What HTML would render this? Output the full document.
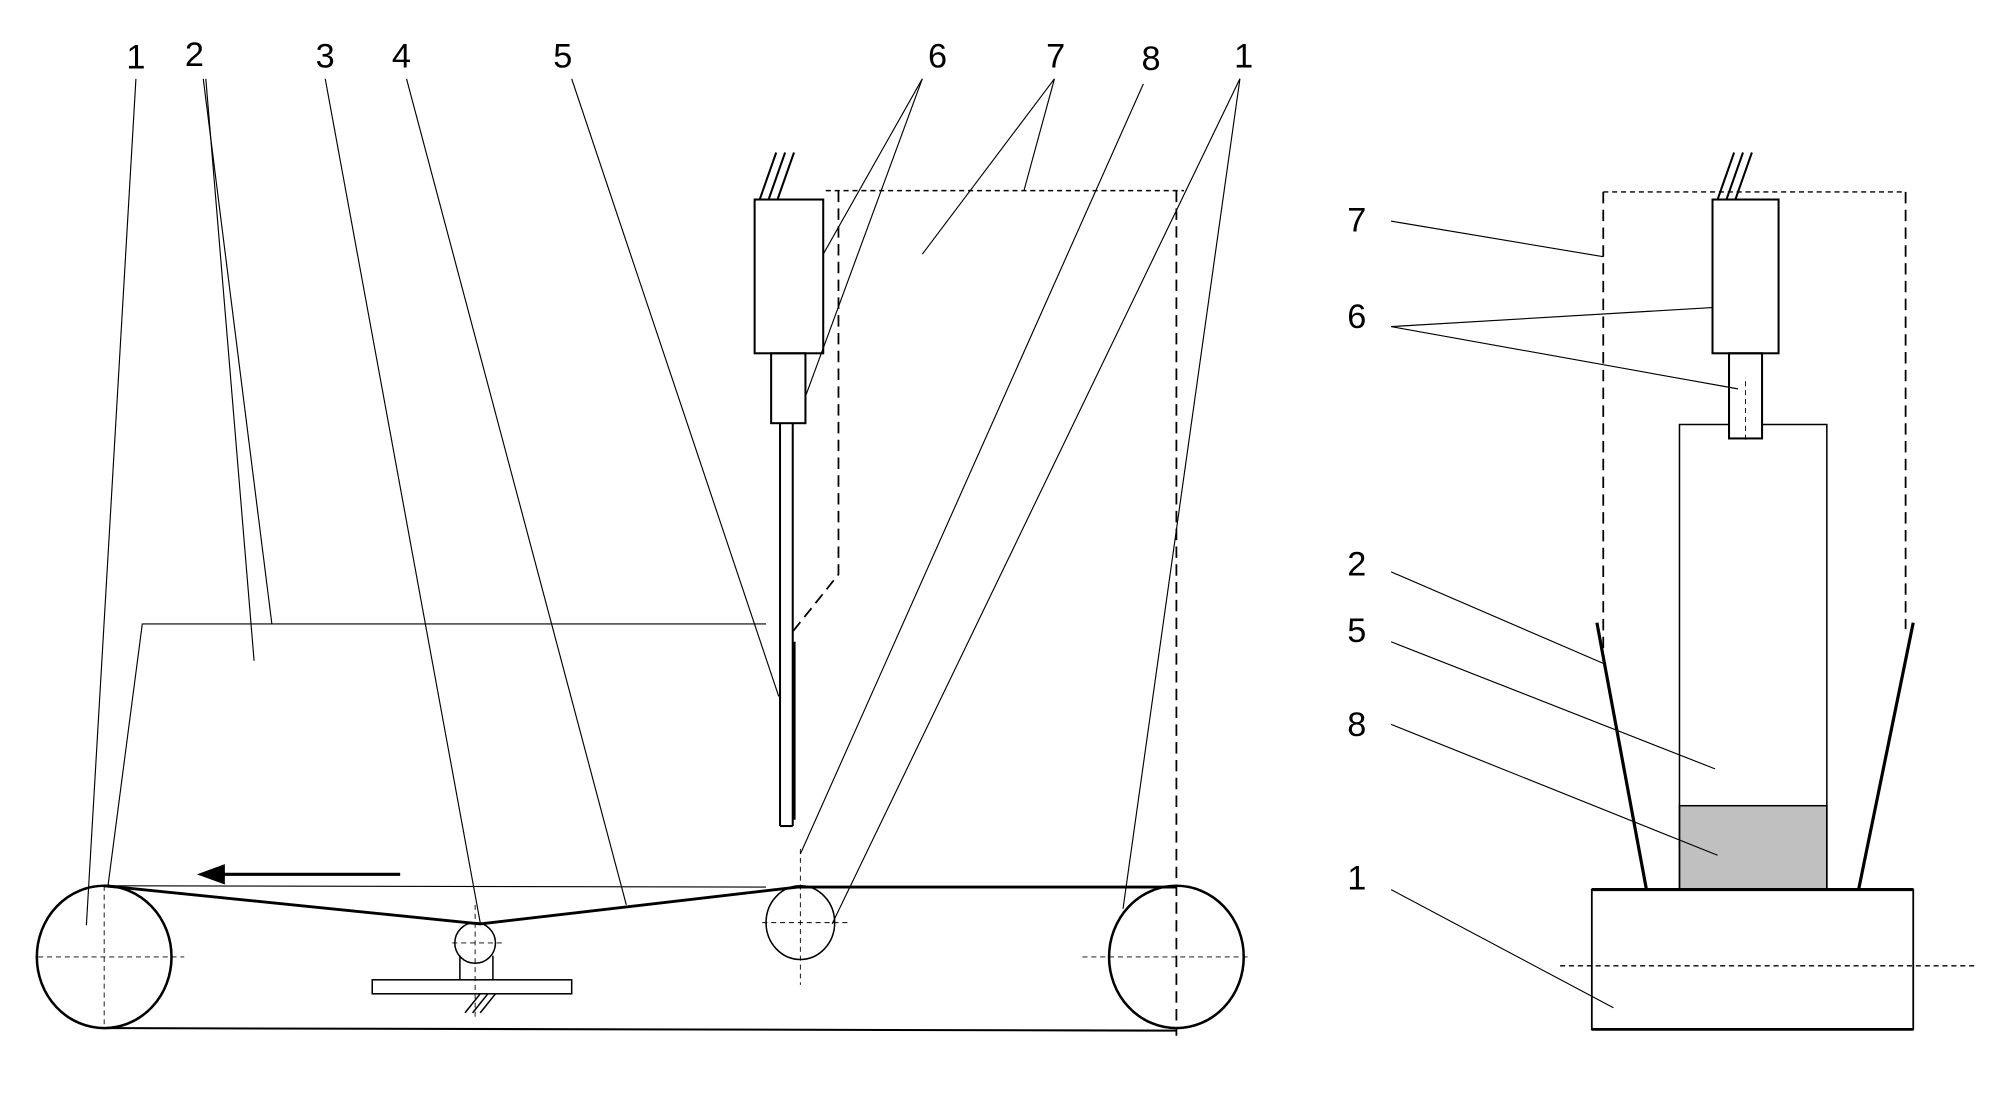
<!DOCTYPE html>
<html><head><meta charset="utf-8"><style>html,body{margin:0;padding:0;background:#fff}svg{display:block}</style></head>
<body>
<svg width="1992" height="1098" viewBox="0 0 1568 864" preserveAspectRatio="none" xmlns="http://www.w3.org/2000/svg">
<rect width="1568" height="864" fill="#fff"/>
<g font-family="Liberation Sans, sans-serif" font-size="27" fill="#000" text-anchor="middle">
<text x="107" y="54">1</text><text x="153" y="52">2</text><text x="256" y="53">3</text><text x="316" y="53">4</text><text x="443" y="53">5</text><text x="738" y="53">6</text><text x="831" y="53">7</text><text x="906" y="55">8</text><text x="979" y="53">1</text>
<text x="1068" y="182">7</text><text x="1068" y="258">6</text><text x="1068" y="453">2</text><text x="1068" y="505">5</text><text x="1068" y="579">8</text><text x="1068" y="700">1</text>
</g>
<g stroke="#000" stroke-width="0.9" fill="none">
<line x1="107" y1="62" x2="68" y2="728"/>
<line x1="160" y1="62" x2="214" y2="491"/>
<line x1="162" y1="62" x2="200" y2="520"/>
<line x1="256" y1="62" x2="378" y2="726"/>
<line x1="320" y1="62" x2="493" y2="712"/>
<line x1="450" y1="62" x2="613" y2="548"/>
<line x1="726" y1="62" x2="648" y2="200"/>
<line x1="726" y1="62" x2="634" y2="312"/>
<line x1="830" y1="62" x2="806" y2="150"/>
<line x1="830" y1="62" x2="726" y2="200"/>
<line x1="900" y1="66" x2="630" y2="672"/>
<line x1="976" y1="62" x2="655" y2="727"/>
<line x1="976" y1="62" x2="884" y2="715"/>
<polyline points="85,697 112,491 603,491"/>
<line x1="82" y1="697" x2="603" y2="698"/>
</g>
<g stroke="#000" stroke-width="1.6" fill="none">
<rect x="594" y="157" width="54" height="121"/>
<rect x="607" y="278" width="27" height="55"/>
<line x1="614" y1="333" x2="614" y2="650"/>
<line x1="624" y1="333" x2="624" y2="650"/>
<line x1="614" y1="650" x2="624" y2="650"/>
<line x1="598" y1="157" x2="611" y2="120"/><line x1="605" y1="157" x2="618" y2="120"/><line x1="612" y1="157" x2="625" y2="120"/>
<line x1="625" y1="505" x2="625" y2="645" stroke-width="2.5"/>
<ellipse cx="82" cy="753" rx="53" ry="56" stroke-width="2"/>
<ellipse cx="926" cy="753" rx="53" ry="56" stroke-width="2"/>
<circle cx="374" cy="742" r="16" stroke-width="1.2"/>
<ellipse cx="630" cy="726" rx="27" ry="29" stroke-width="1.2"/>
<polyline points="82,697 378,727 628,698 926,698" stroke-width="2.3"/>
<line x1="82" y1="809" x2="926" y2="811" stroke-width="1.6"/>
<rect x="293" y="771" width="157" height="11" stroke-width="1.2"/>
<line x1="362" y1="752" x2="362" y2="771" stroke-width="1.2"/><line x1="388" y1="752" x2="388" y2="771" stroke-width="1.2"/>
<line x1="366" y1="797" x2="378" y2="782" stroke-width="1.2"/><line x1="372" y1="797" x2="384" y2="782" stroke-width="1.2"/><line x1="378" y1="797" x2="390" y2="782" stroke-width="1.2"/>
<line x1="315" y1="688" x2="175" y2="688" stroke-width="2.5"/>
<rect x="1348" y="157" width="52" height="121"/>
<rect x="1361" y="278" width="26" height="67"/>
<line x1="1352" y1="157" x2="1365" y2="120"/><line x1="1359" y1="157" x2="1372" y2="120"/><line x1="1366" y1="157" x2="1379" y2="120"/>
<rect x="1322" y="634" width="116" height="66" fill="#c0c0c0" stroke-width="1.2"/>
<polyline points="1361,334 1322,334 1322,700" stroke-width="1.2"/>
<polyline points="1387,334 1438,334 1438,700" stroke-width="1.2"/>
<rect x="1253" y="700" width="253" height="110" stroke-width="1.4"/>
<line x1="1253" y1="700" x2="1506" y2="700" stroke-width="2.5"/>
<line x1="1253" y1="810" x2="1506" y2="810" stroke-width="2.2"/>
<line x1="1257" y1="490" x2="1296" y2="700" stroke-width="2.5"/>
<line x1="1506" y1="490" x2="1463" y2="700" stroke-width="2.5"/>
</g>
<g stroke="#000" stroke-width="0.9" fill="none">
<line x1="1095" y1="174" x2="1262" y2="202"/>
<line x1="1095" y1="257" x2="1348" y2="242"/>
<line x1="1095" y1="257" x2="1368" y2="306"/>
<line x1="1095" y1="450" x2="1262" y2="522"/>
<line x1="1095" y1="505" x2="1350" y2="605"/>
<line x1="1095" y1="570" x2="1352" y2="673"/>
<line x1="1095" y1="700" x2="1270" y2="793"/>
</g>
<polygon points="155,688 177,680 177,696" fill="#000"/>
<g stroke="#000" stroke-width="1.4" fill="none" stroke-dasharray="9,5">
<polyline points="660,150 660,452 624,497"/>
<line x1="926" y1="150" x2="926" y2="815"/>
<line x1="1262" y1="151" x2="1262" y2="520"/>
<line x1="1500" y1="151" x2="1500" y2="495"/>
</g>
<g stroke="#000" stroke-width="1.1" fill="none" stroke-dasharray="4,3">
<line x1="650" y1="150" x2="932" y2="150"/>
<line x1="1262" y1="151" x2="1500" y2="151"/>
<line x1="1228" y1="760" x2="1555" y2="760"/>
</g>
<g stroke="#000" stroke-width="0.7" fill="none" stroke-dasharray="4,3">
<line x1="30" y1="753" x2="145" y2="753"/><line x1="82" y1="697" x2="82" y2="808"/>
<line x1="852" y1="753" x2="985" y2="753"/>
<line x1="600" y1="726" x2="670" y2="726"/><line x1="630" y1="668" x2="630" y2="775"/>
<line x1="356" y1="742" x2="398" y2="742"/><line x1="374" y1="712" x2="374" y2="800"/>
<line x1="1374" y1="300" x2="1374" y2="348"/>
</g>
</svg>
</body></html>
